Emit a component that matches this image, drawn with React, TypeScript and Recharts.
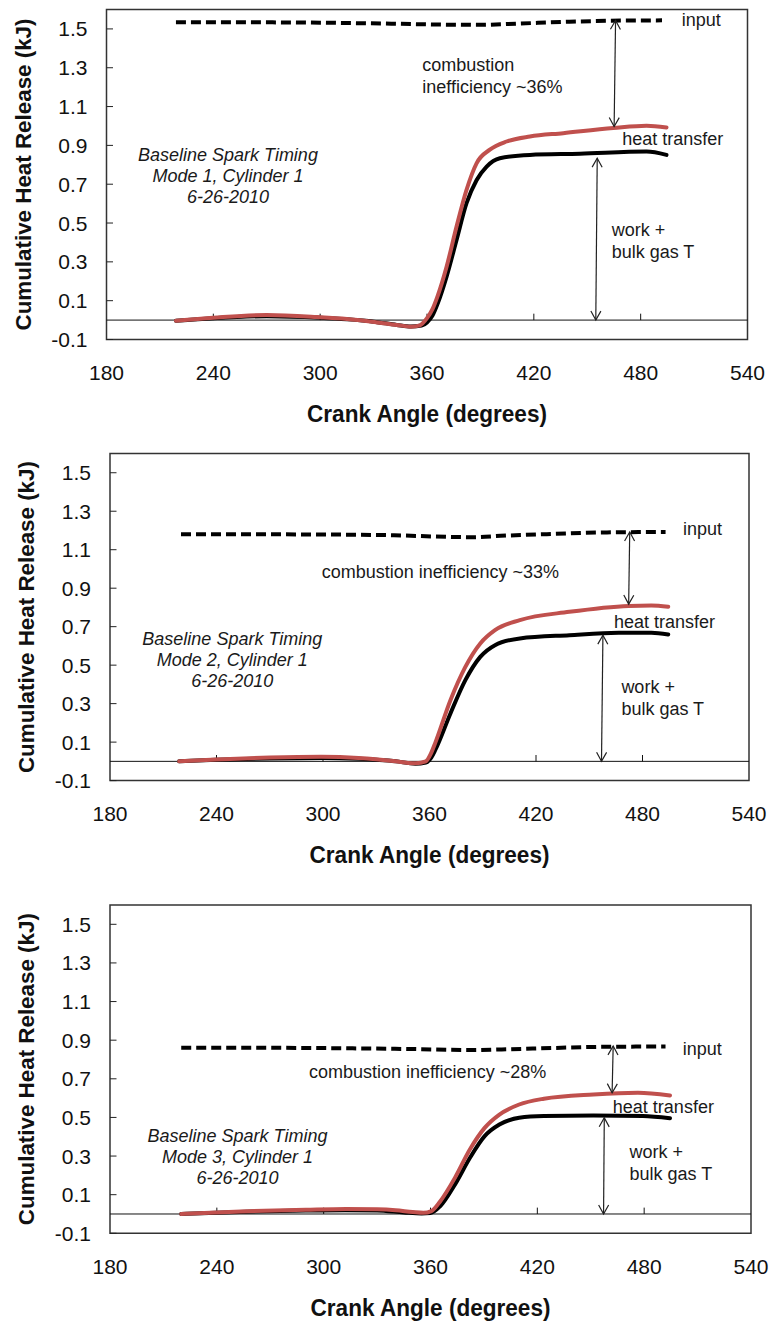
import React from "react";
import { LineChart, Line, XAxis, YAxis, ReferenceLine, ReferenceArea, ReferenceDot } from "recharts";

const FONT = "'Liberation Sans', Arial, sans-serif";
const RED = "#c0504d";

const xTicks = [180, 240, 300, 360, 420, 480, 540];
const yTicks = [-0.1, 0.1, 0.3, 0.5, 0.7, 0.9, 1.1, 1.3, 1.5];
const zeroTicks = [240, 300, 360, 420, 480];

// Panel 1 (Mode 1)
const p1InputAngle = [219, 260, 300, 340, 370, 390, 410, 440, 470, 492];
const p1Input = [1.534, 1.534, 1.532, 1.527, 1.522, 1.521, 1.527, 1.537, 1.543, 1.544];
const p1RedAngle = [219, 240, 270, 298, 315, 329, 343, 351, 356, 360, 363, 366, 371, 376.6, 382.2, 387.9, 395.3, 404.7, 417.8, 436.5, 464.6, 483.3, 494.5];
const p1Red = [-0.003, 0.012, 0.026, 0.016, 0.006, -0.008, -0.025, -0.034, -0.027, 0.01, 0.055, 0.125, 0.275, 0.482, 0.671, 0.809, 0.878, 0.92, 0.946, 0.963, 0.989, 1.001, 0.992];
const p1BlackAngle = [219, 240, 270, 300, 315, 330, 343, 351, 357, 360, 363, 366, 371, 376.6, 382.2, 387.9, 393.5, 400.9, 417.8, 445.9, 483.3, 494.5];
const p1Black = [-0.003, 0.01, 0.02, 0.012, 0.004, -0.008, -0.025, -0.033, -0.028, -0.012, 0.022, 0.085, 0.224, 0.413, 0.602, 0.722, 0.791, 0.834, 0.851, 0.857, 0.868, 0.851];

// Panel 2 (Mode 2)
const p2InputAngle = [220, 260, 300, 340, 370, 385, 400, 430, 460, 493];
const p2Input = [1.18, 1.18, 1.179, 1.175, 1.167, 1.165, 1.172, 1.182, 1.19, 1.192];
const p2RedAngle = [219, 240, 270, 299, 320, 341, 348, 352.3, 357.9, 360.5, 363.4, 371.8, 380.2, 388.6, 396.9, 410.9, 438.8, 472.2, 485, 494.5];
const p2Red = [0.0, 0.01, 0.02, 0.024, 0.018, 0.0, -0.008, -0.01, 0.0, 0.035, 0.1, 0.318, 0.491, 0.613, 0.682, 0.734, 0.777, 0.808, 0.81, 0.803];
const p2BlackAngle = [219, 240, 270, 300, 320, 341, 352, 358, 361, 363.4, 371.8, 380.2, 388.6, 396.9, 410.9, 438.8, 466.6, 485, 494.5];
const p2Black = [0.0, 0.008, 0.015, 0.018, 0.013, 0.0, -0.012, -0.006, 0.02, 0.062, 0.249, 0.422, 0.543, 0.604, 0.639, 0.656, 0.668, 0.668, 0.659];

// Panel 3 (Mode 3)
const p3InputAngle = [220, 260, 300, 350, 382, 400, 430, 460, 492];
const p3Input = [0.861, 0.861, 0.859, 0.854, 0.849, 0.852, 0.86, 0.866, 0.867];
const p3RedAngle = [220, 257, 290, 312.6, 330, 340.4, 350, 356, 360.5, 365.4, 373.7, 382.1, 390.4, 398.7, 409.8, 423.7, 451.5, 476.5, 494.5];
const p3Red = [0.0, 0.014, 0.022, 0.026, 0.024, 0.019, 0.01, 0.006, 0.015, 0.065, 0.187, 0.334, 0.446, 0.515, 0.567, 0.597, 0.619, 0.628, 0.614];
const p3BlackAngle = [220, 257, 290, 312, 330, 345, 355, 360, 365.4, 373.7, 382.1, 390.4, 398.7, 409.8, 423.7, 451.5, 479.3, 494.5];
const p3Black = [0.0, 0.012, 0.018, 0.02, 0.018, 0.008, 0.003, 0.005, 0.04, 0.152, 0.29, 0.403, 0.463, 0.498, 0.507, 0.51, 0.507, 0.496];

const zip = (xs: number[], ys: number[]) => xs.map((x, i) => ({ x, y: ys[i] }));

type Note = { x: number; y: number; lines: string[]; anchor: "start" | "middle"; italic?: boolean };
type Arrow = { x1: number; y1: number; x2: number; y2: number };

type PanelCfg = {
  top: number;
  height: number;
  margin: { top: number; right: number; bottom: number; left: number };
  input: { x: number; y: number }[];
  red: { x: number; y: number }[];
  black: { x: number; y: number }[];
  notes: Note[];
  arrows: Arrow[];
};

const panels: PanelCfg[] = [
  {
    top: 0,
    height: 440,
    margin: { top: 9.5, right: 29.5, bottom: 70.5, left: 6.5 },
    input: zip(p1InputAngle, p1Input),
    red: zip(p1RedAngle, p1Red),
    black: zip(p1BlackAngle, p1Black),
    notes: [
      { x: 503.1, y: 1.548, lines: ["input"], anchor: "start" },
      { x: 357.3, y: 1.316, lines: ["combustion", "inefficiency ~36%"], anchor: "start" },
      { x: 469.6, y: 0.932, lines: ["heat transfer"], anchor: "start" },
      { x: 463.7, y: 0.465, lines: ["work +", "bulk gas T"], anchor: "start" },
      { x: 248.2, y: 0.851, lines: ["Baseline Spark Timing", "Mode 1, Cylinder 1", "6-26-2010"], anchor: "middle", italic: true },
    ],
    arrows: [
      { x1: 465.9, y1: 1.544, x2: 465.1, y2: 0.997 },
      { x1: 455.6, y1: 0.834, x2: 454.8, y2: 0 },
    ],
  },
  {
    top: 440,
    height: 445,
    margin: { top: 13.5, right: 28, bottom: 74.4, left: 10 },
    input: zip(p2InputAngle, p2Input),
    red: zip(p2RedAngle, p2Red),
    black: zip(p2BlackAngle, p2Black),
    notes: [
      { x: 502.8, y: 1.207, lines: ["input"], anchor: "start" },
      { x: 299.3, y: 0.983, lines: ["combustion inefficiency ~33%"], anchor: "start" },
      { x: 463.9, y: 0.723, lines: ["heat transfer"], anchor: "start" },
      { x: 468.1, y: 0.384, lines: ["work +", "bulk gas T"], anchor: "start" },
      { x: 248.9, y: 0.636, lines: ["Baseline Spark Timing", "Mode 2, Cylinder 1", "6-26-2010"], anchor: "middle", italic: true },
    ],
    arrows: [
      { x1: 472.8, y1: 1.192, x2: 472.2, y2: 0.817 },
      { x1: 457.7, y1: 0.656, x2: 456.9, y2: 0 },
    ],
  },
  {
    top: 885,
    height: 447,
    margin: { top: 20, right: 26, bottom: 68.7, left: 10 },
    input: zip(p3InputAngle, p3Input),
    red: zip(p3RedAngle, p3Red),
    black: zip(p3BlackAngle, p3Black),
    notes: [
      { x: 501.7, y: 0.856, lines: ["input"], anchor: "start" },
      { x: 291.7, y: 0.735, lines: ["combustion inefficiency ~28%"], anchor: "start" },
      { x: 462.4, y: 0.553, lines: ["heat transfer"], anchor: "start" },
      { x: 471.8, y: 0.32, lines: ["work +", "bulk gas T"], anchor: "start" },
      { x: 251.6, y: 0.406, lines: ["Baseline Spark Timing", "Mode 3, Cylinder 1", "6-26-2010"], anchor: "middle", italic: true },
    ],
    arrows: [
      { x1: 462.6, y1: 0.87, x2: 462, y2: 0.628 },
      { x1: 457.6, y1: 0.498, x2: 457.2, y2: 0 },
    ],
  },
];

const YTick = (props: any) => {
  const { x, y, payload } = props;
  const v = Number(payload.value);
  return (
    <g>
      <text x={x} y={y} textAnchor="end" dominantBaseline="central" fontSize={21} fontFamily={FONT} fill="#111">
        {v.toFixed(1)}
      </text>
      <line x1={x + 19} x2={x + 25.5} y1={y} y2={y} stroke="#222" strokeWidth={1} />
    </g>
  );
};

const ArrowShape = (p: any) => {
  const { x1, y1, x2, y2 } = p;
  const dx = x2 - x1;
  const dy = y2 - y1;
  const len = Math.sqrt(dx * dx + dy * dy) || 1;
  const ux = dx / len;
  const uy = dy / len;
  const hl = 9;
  const hw = 5;
  const head = (tx: number, ty: number, dirx: number, diry: number) => {
    const bx = tx - dirx * hl;
    const by = ty - diry * hl;
    const px = -diry * hw;
    const py = dirx * hw;
    return `M${bx + px},${by + py} L${tx},${ty} L${bx - px},${by - py}`;
  };
  return (
    <g>
      <line x1={x1} y1={y1} x2={x2} y2={y2} stroke="#222" strokeWidth={1.2} />
      <path d={head(x2, y2, ux, uy)} fill="none" stroke="#222" strokeWidth={1.2} />
      <path d={head(x1, y1, -ux, -uy)} fill="none" stroke="#222" strokeWidth={1.2} />
    </g>
  );
};

const makeNote = (n: Note) => (p: any) => {
  const { cx, cy } = p;
  const lh = n.italic ? 21 : 22;
  return (
    <g>
      {n.lines.map((l, i) => (
        <text
          key={i}
          x={cx}
          y={cy + i * lh}
          textAnchor={n.anchor}
          dominantBaseline="central"
          fontSize={18}
          fontStyle={n.italic ? "italic" : "normal"}
          fontFamily={FONT}
          fill="#1a1a1a"
        >
          {l}
        </text>
      ))}
    </g>
  );
};

const XTitle = (props: any) => {
  const vb = props.viewBox;
  return (
    <text
      x={vb.x + vb.width / 2}
      y={vb.y + 82.5}
      textAnchor="middle"
      fontSize={23}
      fontWeight="bold"
      fontFamily={FONT}
      fill="#111"
      textLength={240}
      lengthAdjust="spacingAndGlyphs"
    >
      Crank Angle (degrees)
    </text>
  );
};

const YTitle = (props: any) => {
  const vb = props.viewBox;
  const cx = vb.x + vb.width - 83.5;
  const cy = vb.y + vb.height / 2;
  return (
    <text
      x={cx}
      y={cy}
      transform={`rotate(-90 ${cx} ${cy})`}
      textAnchor="middle"
      dominantBaseline="central"
      fontSize={22.5}
      fontWeight="bold"
      fontFamily={FONT}
      fill="#111"
      textLength={312}
      lengthAdjust="spacingAndGlyphs"
    >
      Cumulative Heat Release (kJ)
    </text>
  );
};

const Panel = ({ cfg }: { cfg: PanelCfg }) => (
  <div style={{ position: "absolute", left: 0, top: cfg.top, width: 777, height: cfg.height }}>
    <LineChart width={777} height={cfg.height} margin={cfg.margin}>
      <XAxis
        type="number"
        dataKey="x"
        domain={[180, 540]}
        ticks={xTicks}
        interval={0}
        allowDataOverflow
        axisLine={false}
        tickLine={false}
        tickSize={0}
        tickMargin={25.5}
        height={30}
        tick={{ fontSize: 21, fontFamily: FONT, fill: "#111" }}
        label={{ content: XTitle }}
      />
      <YAxis
        type="number"
        domain={[-0.1, 1.6]}
        ticks={yTicks}
        interval={0}
        allowDataOverflow
        axisLine={false}
        tickLine={false}
        tickSize={0}
        tickMargin={19}
        width={100}
        tick={<YTick />}
        label={{ content: YTitle }}
      />
      <ReferenceArea x1={180} x2={540} y1={-0.1} y2={1.6} fill="none" stroke="#333" strokeWidth={1.5} ifOverflow="visible" />
      <ReferenceLine y={0} stroke="#111" strokeWidth={1} />
      {zeroTicks.map((t) => (
        <ReferenceLine
          key={t}
          segment={[
            { x: t, y: 0 },
            { x: t, y: 0.033 },
          ]}
          stroke="#111"
          strokeWidth={1}
        />
      ))}
      <Line data={cfg.input} dataKey="y" type="monotone" stroke="#000" strokeWidth={4} strokeDasharray="10 5" dot={false} activeDot={false} isAnimationActive={false} />
      <Line data={cfg.black} dataKey="y" type="monotone" stroke="#000" strokeWidth={4} strokeLinecap="round" dot={false} activeDot={false} isAnimationActive={false} />
      <Line data={cfg.red} dataKey="y" type="monotone" stroke={RED} strokeWidth={4} strokeLinecap="round" dot={false} activeDot={false} isAnimationActive={false} />
      {cfg.arrows.map((a, i) => (
        <ReferenceLine
          key={"a" + i}
          segment={[
            { x: a.x1, y: a.y1 },
            { x: a.x2, y: a.y2 },
          ]}
          shape={ArrowShape}
          ifOverflow="visible"
        />
      ))}
      {cfg.notes.map((n, i) => (
        <ReferenceDot key={"n" + i} x={n.x} y={n.y} r={0} shape={makeNote(n)} ifOverflow="visible" />
      ))}
    </LineChart>
  </div>
);

export default function App() {
  return (
    <div style={{ position: "absolute", left: 0, top: 0, width: 777, height: 1332, background: "#fff" }}>
      {panels.map((p, i) => (
        <Panel key={i} cfg={p} />
      ))}
    </div>
  );
}
